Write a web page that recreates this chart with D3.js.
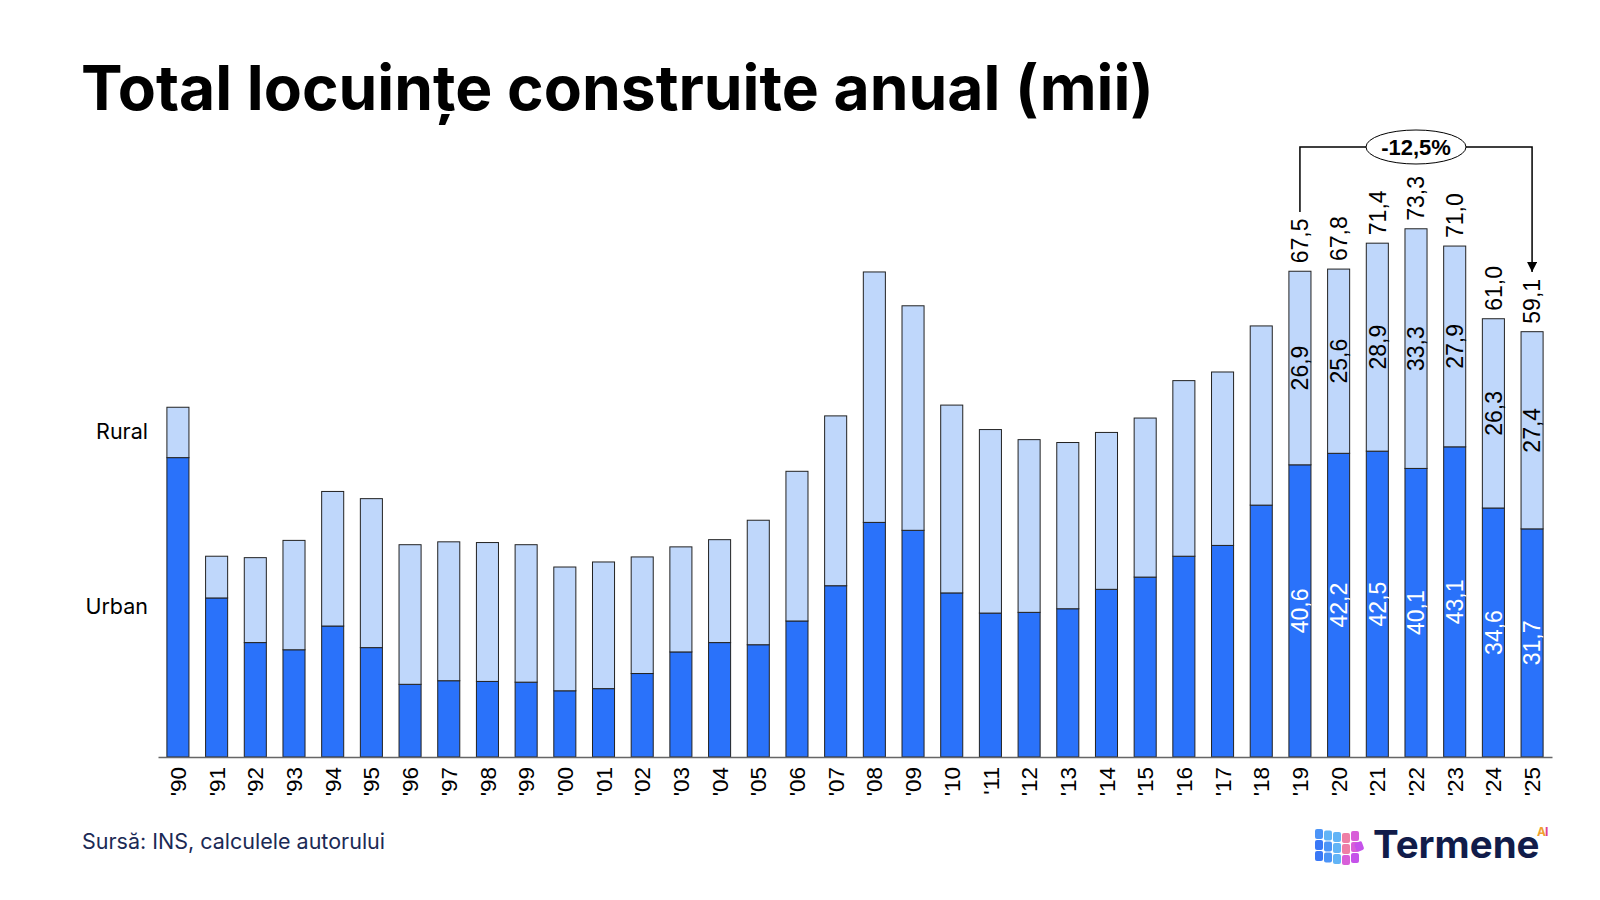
<!DOCTYPE html>
<html>
<head>
<meta charset="utf-8">
<script src="https://cdn.jsdelivr.net/npm/d3@7"></script>
<style>
  body { margin: 0; background: #fff; }
  svg { display: block; }
</style>
</head>
<body>
<svg width="1600" height="900"></svg>
<script>
// data, in thousands of dwellings
const years = ["'90","'91","'92","'93","'94","'95","'96","'97","'98","'99",
  "'00","'01","'02","'03","'04","'05","'06","'07","'08","'09",
  "'10","'11","'12","'13","'14","'15","'16","'17","'18","'19",
  "'20","'21","'22","'23","'24","'25"];
const urban = [41.6, 22.1, 15.9, 14.9, 18.2, 15.2, 10.1, 10.6, 10.5, 10.4,
  9.2, 9.5, 11.6, 14.6, 15.9, 15.6, 18.9, 23.8, 32.6, 31.5,
  22.8, 20.0, 20.1, 20.6, 23.3, 25.0, 27.9, 29.4, 35.0, 40.6,
  42.2, 42.5, 40.1, 43.1, 34.6, 31.7];
const rural = [7.0, 5.8, 11.8, 15.2, 18.7, 20.7, 19.4, 19.3, 19.3, 19.1,
  17.2, 17.6, 16.2, 14.6, 14.3, 17.3, 20.8, 23.6, 34.8, 31.2,
  26.1, 25.5, 24.0, 23.1, 21.8, 22.1, 24.4, 24.1, 24.9, 26.9,
  25.6, 28.9, 33.3, 27.9, 26.3, 27.4];
// labelled years and their printed totals
const labelled = ["'19","'20","'21","'22","'23","'24","'25"];
const totalLabels = ["67,5","67,8","71,4","73,3","71,0","61,0","59,1"];
const change = "-12,5%";

const rows = years.map((y, i) => ({year: y, urban: urban[i], rural: rural[i]}));
const stack = d3.stack().keys(["urban", "rural"])(rows);

const svg = d3.select("svg");
const fmt = v => d3.format(".1f")(v).replace(".", ",");

const x = d3.scaleBand().domain(years).range([158, 1552]).paddingInner(0.43).paddingOuter(0.23);
const y = d3.scaleLinear().domain([0, 73.3]).range([757, 229.5]);

const colors = {urban: "#2a72fa", rural: "#bfd7fb"};
const sideFont = "Inter, 'Open Sans', sans-serif";
const vFont = "'Liberation Sans', Arial, sans-serif";

// title
svg.append("text")
  .attr("x", 81).attr("y", 110)
  .style("font-family", sideFont)
  .style("font-weight", 700).style("font-size", "62.3px")
  .attr("fill", "#000")
  .text("Total locuințe construite anual (mii)");

// bars
svg.append("g").selectAll("g")
  .data(stack).join("g")
  .attr("fill", d => colors[d.key])
  .selectAll("rect")
  .data(d => d).join("rect")
  .attr("x", d => x(d.data.year))
  .attr("y", d => y(d[1]))
  .attr("width", x.bandwidth())
  .attr("height", d => y(d[0]) - y(d[1]))
  .attr("stroke", "#222").attr("stroke-width", 1);

// axis
const xAxis = d3.axisBottom(x).tickSize(0).tickPadding(0);
const gx = svg.append("g").attr("transform", "translate(0,757)").call(xAxis);
gx.select(".domain").attr("stroke", "#666").attr("stroke-width", 1.5);
gx.selectAll(".tick text")
  .attr("transform", "rotate(-90)")
  .attr("x", -10).attr("y", 0).attr("dy", "0.36em")
  .attr("text-anchor", "end")
  .style("font-family", vFont)
  .style("font-size", "22.5px").attr("fill", "#000");

// series names on the left
svg.append("text").attr("x", 148).attr("y", 439).attr("text-anchor", "end")
  .style("font-family", sideFont).style("font-size", "21.5px").text("Rural");
svg.append("text").attr("x", 148).attr("y", 614).attr("text-anchor", "end")
  .style("font-family", sideFont).style("font-size", "21.5px").text("Urban");

// value labels for recent years
const lab = rows.filter(d => labelled.includes(d.year));
const cx = d => x(d.year) + x.bandwidth() / 2;

const gl = svg.append("g").style("font-family", vFont).style("font-size", "23px");
gl.selectAll(".u").data(lab).join("text")
  .attr("transform", d => `translate(${cx(d)},${(y(0) + y(d.urban)) / 2}) rotate(-90)`)
  .attr("text-anchor", "middle").attr("dy", "0.36em").attr("fill", "#fff")
  .text(d => fmt(d.urban));
gl.selectAll(".r").data(lab).join("text")
  .attr("transform", d => `translate(${cx(d)},${(y(d.urban) + y(d.urban + d.rural)) / 2}) rotate(-90)`)
  .attr("text-anchor", "middle").attr("dy", "0.36em").attr("fill", "#000")
  .text(d => fmt(d.rural));
gl.selectAll(".t").data(lab).join("text")
  .attr("transform", d => `translate(${cx(d)},${y(d.urban + d.rural) - 8}) rotate(-90)`)
  .attr("text-anchor", "start").attr("dy", "0.36em").attr("fill", "#000")
  .text((d, i) => totalLabels[i]);

// change bracket '19 -> '25
const x0 = cx(lab[0]), x1 = cx(lab[lab.length - 1]);
const yTop = 147;
svg.append("defs").append("marker")
  .attr("id", "arr").attr("viewBox", "0 0 10 10")
  .attr("refX", 10).attr("refY", 5)
  .attr("markerWidth", 10).attr("markerHeight", 10)
  .attr("markerUnits", "userSpaceOnUse")
  .attr("orient", "auto")
  .append("path").attr("d", "M0,0L10,5L0,10Z").attr("fill", "#000");
svg.append("path")
  .attr("d", `M${x0},212V${yTop}H${x1}V272`)
  .attr("fill", "none").attr("stroke", "#000").attr("stroke-width", 1.5)
  .attr("marker-end", "url(#arr)");
const mid = (x0 + x1) / 2;
svg.append("ellipse").attr("cx", mid).attr("cy", yTop).attr("rx", 50).attr("ry", 17)
  .attr("fill", "#fff").attr("stroke", "#000").attr("stroke-width", 1);
svg.append("text").attr("x", mid).attr("y", yTop).attr("dy", "0.36em")
  .attr("text-anchor", "middle")
  .style("font-family", vFont).style("font-weight", 700).style("font-size", "22px")
  .text(change);

// source
svg.append("text").attr("x", 82).attr("y", 849)
  .style("font-family", sideFont).style("font-size", "21.5px").attr("fill", "#1b2a55")
  .text("Sursă: INS, calculele autorului");

// logo
const logo = svg.append("g").attr("transform", "translate(1315,829)");
const blues = ["#3a78f6", "#4c94f7", "#62b4f6"];
const pinks = ["#ee7fa6", "#d85fd8", "#c552ea"];
for (let c = 0; c < 3; c++) {
  for (let r = 0; r < 3; r++) {
    logo.append("rect")
      .attr("x", c * 9).attr("y", r * 11 + c * 1.5)
      .attr("width", 8).attr("height", 10).attr("rx", 2)
      .attr("fill", r === 0 ? blues[Math.min(c + 1, 2)] : blues[c]);
  }
}
for (let c = 0; c < 2; c++) {
  for (let r = 0; r < 3; r++) {
    logo.append("rect")
      .attr("x", 27 + c * 9).attr("y", r * 11 + 4 - c * 2)
      .attr("width", 8).attr("height", 10).attr("rx", 2)
      .attr("fill", pinks[c + (r > 1 ? 1 : 0)]);
  }
}
logo.append("rect").attr("x", 40).attr("y", 13).attr("width", 8).attr("height", 9).attr("rx", 2)
  .attr("fill", "#c552ea").attr("transform", "rotate(-20,44,17)");
svg.append("text").attr("x", 1373).attr("y", 858)
  .style("font-family", sideFont).style("font-weight", 700).style("font-size", "38.5px")
  .attr("fill", "#111c4a").text("Termene");
svg.append("text").attr("x", 1537).attr("y", 836)
  .style("font-family", sideFont).style("font-weight", 700).style("font-size", "12px")
  .attr("fill", "#f0a030").text("A");
svg.append("text").attr("x", 1545).attr("y", 836)
  .style("font-family", sideFont).style("font-weight", 700).style("font-size", "12px")
  .attr("fill", "#e0408a").text("I");
</script>
</body>
</html>
